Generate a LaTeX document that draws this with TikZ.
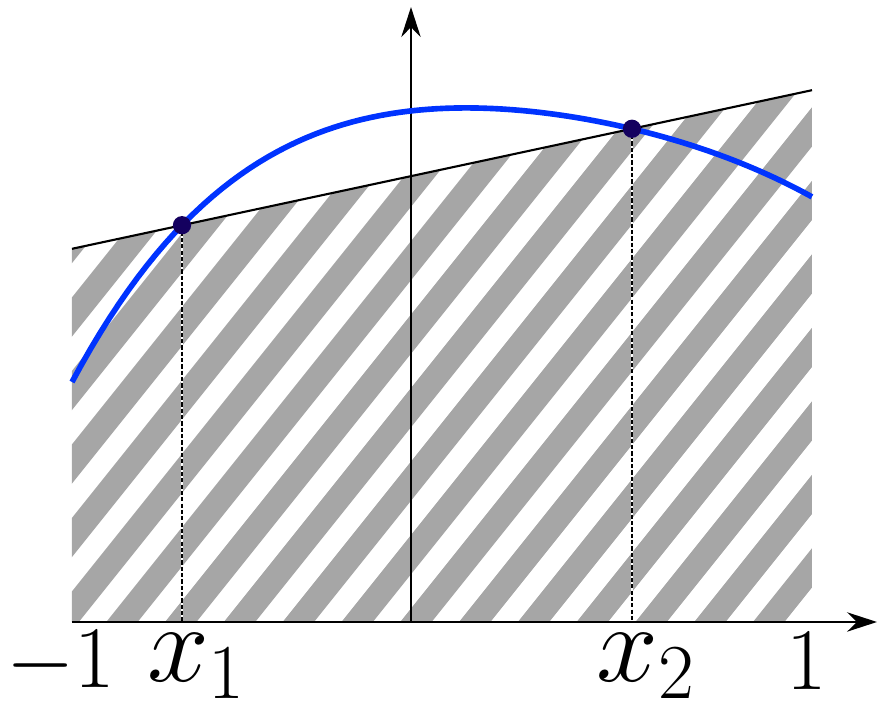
\RequirePackage{fix-cm}
\documentclass[tikz,border=0pt]{standalone}
\usepackage{tikz}
\usetikzlibrary{arrows.meta}
\definecolor{curveblue}{RGB}{0, 51, 255}
\definecolor{dotnavy}{RGB}{20, 0, 95}
\definecolor{stripegray}{RGB}{166, 166, 166}

\begin{document}
\begin{tikzpicture}[
        x=3.7cm, y=3.7cm,
        axis/.style={line width=0.6pt, -{Stealth[length=8.5pt, width=5.5pt]}},
        chord/.style={line width=0.6pt},
        stripe/.style={stripegray, line width=0.245cm},
        fcurve/.style={curveblue, line width=1.6pt},
        guide/.style={line width=0.45pt, dash pattern=on 1.2pt off 0.6pt, preaction={draw=white, solid, line width=0.8pt}},
        gpt/.style={circle, fill=dotnavy, inner sep=0pt, minimum size=5.2pt},
        numlbl/.style={anchor=base, inner sep=0pt, font=\fontsize{25}{30}\selectfont},
        ptlbl/.style={anchor=base, inner sep=0pt, font=\fontsize{31.6}{38}\selectfont}
    ]
        \useasboundingbox (-1.1946,-0.2162) rectangle (1.1757,1.6811);

        % Key points
        \coordinate (A) at (-1,0);
        \coordinate (B) at (1,0);
        \coordinate (LA) at (-1,1.0086);
        \coordinate (LB) at (1,1.4373);
        \coordinate (P1) at (-0.7027,1.0724);
        \coordinate (P2) at (0.5135,1.3330);
        \coordinate (O) at (-0.0838,0);
        \coordinate (xend) at (1.1757,0);
        \coordinate (yend) at (-0.0838,1.662);

        % Hatched region under the line
        \begin{scope}
            \clip (A) -- (B) -- (LB) -- (LA) -- cycle;
            \foreach \k in {-8,...,13}
                \draw[stripe] ({-1.025+0.1589*\k},-0.2) -- ++(1.4,1.75);
        \end{scope}

        % Dashed guides
        \draw[guide] (P1) -- (P1 |- A);
        \draw[guide] (P2) -- (P2 |- A);

        % Line and axes
        \draw[chord] (LA) -- (LB);
        \draw[axis] (A) -- (xend);
        \draw[axis] (O) -- (yend);

        % Curve (through -1, x1, top, x2, 1)
        \draw[fcurve] plot[domain=-1:1, samples=80]
            (\x, {0.6486 + 1.4255*(\x+1) - 0.94148*(\x+1)*(\x+0.7027)
                  + 0.33277*(\x+1)*(\x+0.7027)*(\x-0.0892)
                  - 0.11705*(\x+1)*(\x+0.7027)*(\x-0.0892)*(\x-0.5135)});

        % Points
        \node[gpt] (g1) at (P1) {};
        \node[gpt] (g2) at (P2) {};

        % Labels
        \node[numlbl] (lm1) at (-1.031,-0.178) {$-1$};
        \node[ptlbl] (lx1) at (-0.663,-0.162) {$x_1$};
        \node[ptlbl] (lx2) at (0.552,-0.162) {$x_2$};
        \node[numlbl] (lp1) at (0.9865,-0.183) {$1$};
    \end{tikzpicture}
\end{document}
